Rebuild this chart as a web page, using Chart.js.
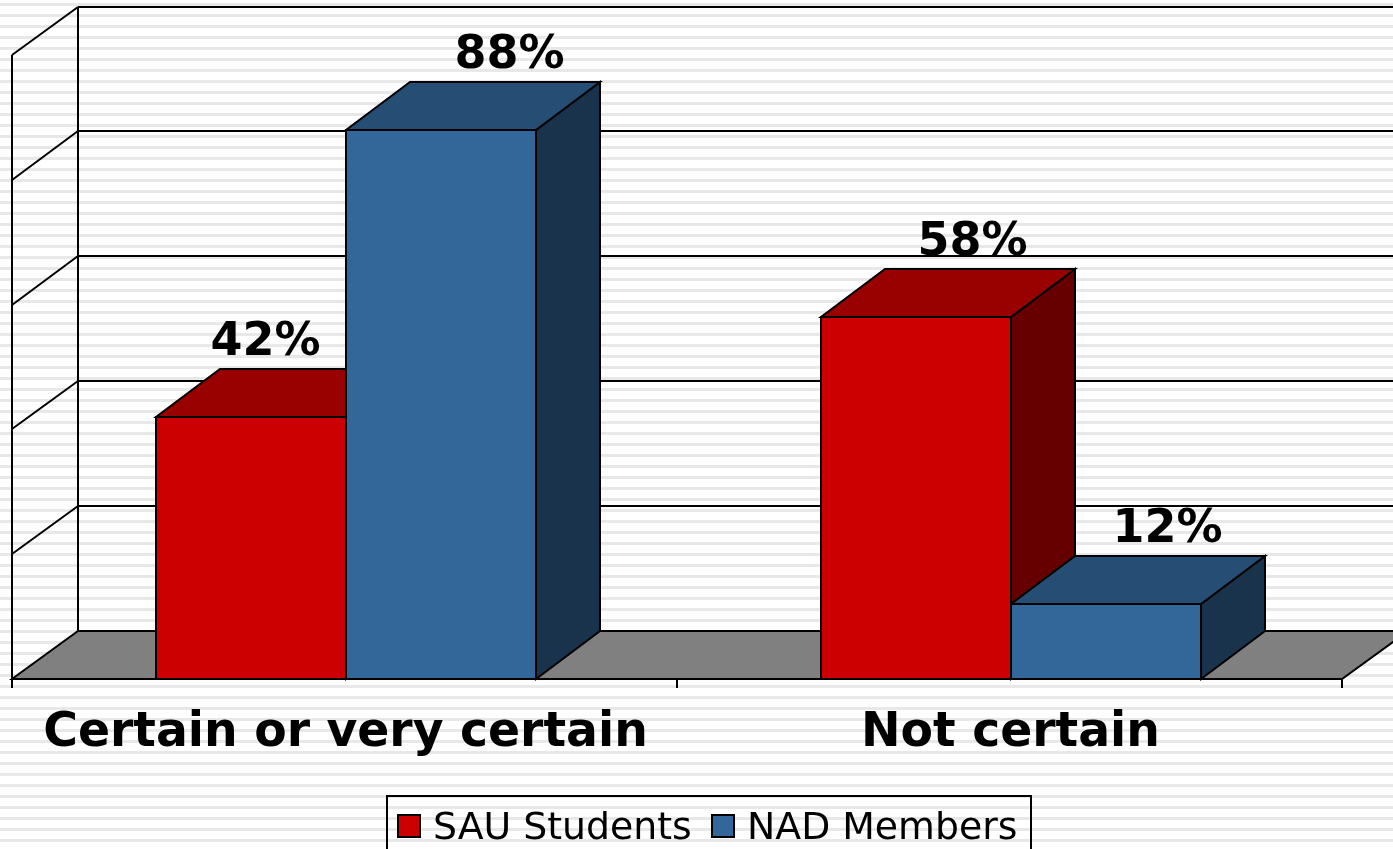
<!DOCTYPE html>
<html>
<head>
<meta charset="utf-8">
<style>
html,body{margin:0;padding:0;width:1393px;height:849px;overflow:hidden;background:#fff;}
#wrap{position:absolute;left:0;top:0;width:1393px;height:849px;
background:repeating-linear-gradient(to bottom,#fff 0,#fff 3px,#e8e8e8 3px,#e8e8e8 6px,#fff 6px,#fff 11px);}
canvas{display:block;}
</style>
<script src="https://cdn.jsdelivr.net/npm/chart.js@4"></script>
</head>
<body>
<div id="wrap"><canvas id="c" width="1393" height="849"></canvas></div>
<script>
const categories = ["Certain or very certain", "Not certain"];
const sauStudents = [42, 58];
const nadMembers = [88, 12];
const seriesNames = ["SAU Students", "NAD Members"];
const yTicks = [0, 20, 40, 60, 80, 100];

const DX = 64, DY = 48, WALL_DX = 66;
const faces = [
  {front:"#CC0000", top:"#990000", side:"#660000"},
  {front:"#336699", top:"#264D73", side:"#1A334D"}
];
const labelShift = [[15, 69], [57, 62]]; // by category, by series: x shift of value label

function poly(ctx, pts, fill){
  ctx.beginPath();
  pts.forEach((p,i)=> i ? ctx.lineTo(p[0],p[1]) : ctx.moveTo(p[0],p[1]));
  ctx.closePath();
  if(fill){ctx.fillStyle=fill;ctx.fill();}
  ctx.stroke();
}
function line(ctx,a,b,c,d){ctx.beginPath();ctx.moveTo(a,b);ctx.lineTo(c,d);ctx.stroke();}
function rect(b){
  return {L:Math.ceil(b.x-b.width/2),R:Math.ceil(b.x+b.width/2),T:Math.round(b.y),B:Math.round(b.base)};
}

const scene3d = {
  id:"scene3d",
  beforeDatasetsDraw(chart){
    const {ctx, chartArea:a, scales:{y}} = chart;
    const X0=a.left-1, X1=a.right-1, Y0=Math.round(a.bottom);
    ctx.save();
    ctx.strokeStyle="#000"; ctx.lineWidth=2; ctx.lineJoin="miter";
    yTicks.forEach(v=>{
      const p=y.getPixelForValue(v);
      const q=Math.floor(p-DY);
      if(v>0) line(ctx,X0,Math.round(p),X0+WALL_DX,q);
      line(ctx,X0+WALL_DX,q,1400,q);
    });
    line(ctx,X0,a.top,X0,Y0+9);
    line(ctx,X0+WALL_DX,Math.floor(a.top-DY),X0+WALL_DX,Y0-DY);
    poly(ctx,[[X0,Y0],[X1,Y0],[X1+WALL_DX,Y0-DY],[X0+WALL_DX,Y0-DY]],"#808080");
    const mid=Math.ceil((X0+X1)/2);
    [X0,mid,X1].forEach(x=>line(ctx,x,Y0,x,Y0+9));
    categories.forEach((_,ci)=>{
      chart.data.datasets.forEach((ds,di)=>{
        const {L,R,T,B}=rect(chart.getDatasetMeta(di).data[ci]);
        poly(ctx,[[R,T],[R+DX,T-DY],[R+DX,B-DY],[R,B]],faces[di].side);
        poly(ctx,[[L,T],[R,T],[R+DX,T-DY],[L+DX,T-DY]],faces[di].top);
      });
    });
    ctx.restore();
  },
  afterDatasetsDraw(chart){
    const {ctx} = chart;
    ctx.save();
    ctx.strokeStyle="#000"; ctx.lineWidth=2; ctx.lineJoin="miter";
    chart.data.datasets.forEach((ds,di)=>{
      chart.getDatasetMeta(di).data.forEach(b=>{
        const {L,R,T,B}=rect(b);
        ctx.strokeRect(L,T,R-L,B-T);
      });
    });
    ctx.fillStyle="#000";
    ctx.font='bold 46px "DejaVu Sans"';
    ctx.textAlign="center"; ctx.textBaseline="middle";
    chart.data.datasets.forEach((ds,di)=>{
      chart.getDatasetMeta(di).data.forEach((b,ci)=>{
        ctx.fillText(ds.data[ci]+"%", b.x+labelShift[ci][di], b.y-74);
      });
    });
    ctx.strokeRect(387,796,644,70);
    ctx.font='37.8px "DejaVu Sans"';
    ctx.textAlign="left"; ctx.textBaseline="alphabetic";
    [[398,433],[712,747]].forEach((p,i)=>{
      ctx.fillStyle=faces[i].front;
      ctx.fillRect(p[0],815,22,22);
      ctx.strokeRect(p[0],815,22,22);
      ctx.fillStyle="#000";
      ctx.fillText(seriesNames[i],p[1],839);
    });
    ctx.restore();
  }
};

new Chart(document.getElementById("c"),{
  type:"bar",
  data:{labels:categories,datasets:[
    {label:seriesNames[0],data:sauStudents,backgroundColor:faces[0].front,borderWidth:0},
    {label:seriesNames[1],data:nadMembers,backgroundColor:faces[1].front,borderWidth:0}
  ]},
  plugins:[scene3d],
  options:{
    responsive:false,animation:false,
    layout:{padding:{left:13,right:50,top:55,bottom:0}},
    datasets:{bar:{barPercentage:1,categoryPercentage:0.5714}},
    plugins:{tooltip:{enabled:false},title:{display:false},legend:{display:false}},
    scales:{
      x:{
        grid:{display:false},border:{display:false},
        ticks:{color:"#000",font:{family:"DejaVu Sans",weight:"bold",size:47.3},padding:18,maxRotation:0},
        afterFit(s){s.height=170;}
      },
      y:{display:false,min:0,max:100,ticks:{stepSize:20}}
    }
  }
});
</script>
</body>
</html>
